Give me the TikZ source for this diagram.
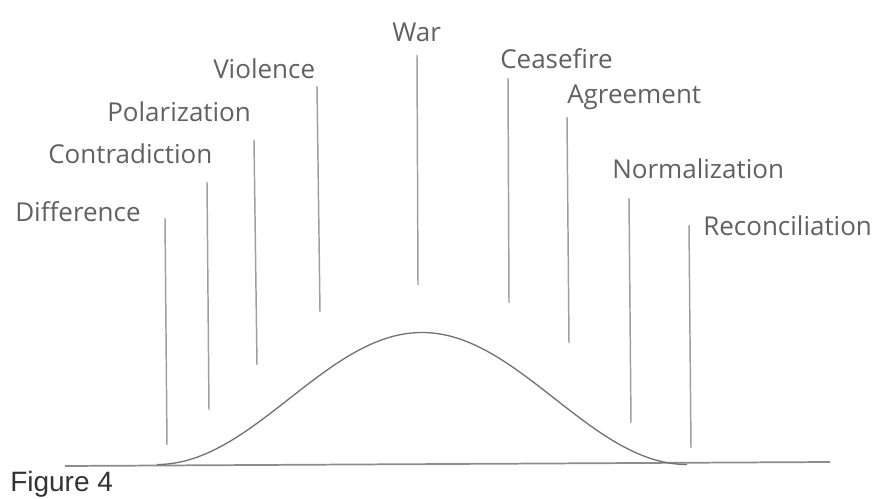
\documentclass[tikz,border=0pt]{standalone}
\usepackage{fontspec}
\setmainfont{Open Sans}
\newfontfamily\figfont{Liberation Sans}
\usetikzlibrary{positioning}

\begin{document}
\begin{tikzpicture}[x=0.75pt,y=-0.75pt,
		stage/.style={anchor=base west,inner sep=0pt,text=black!62,font=\fontsize{19.5}{23}\selectfont},
		stem/.style={draw=black!38,line width=1.1pt},
		axisline/.style={draw=black!45,line width=1.3pt},
		bell/.style={draw=black!55,line width=1pt}]
		\useasboundingbox (0,0) rectangle (886,499);
		
		% stage labels
		\node[stage] (dif) at (15,222) {Difference};
		\node[stage] (con) at (48,164) {Contradiction};
		\node[stage] (pol) at (107,122) {Polarization};
		\node[stage] (vio) at (213,79) {Violence};
		\node[stage] (war) at (392,42) {War};
		\node[stage] (cea) at (500,69) {Ceasefire};
		\node[stage] (agr) at (567,104) {Agreement};
		\node[stage] (nor) at (612,179) {Normalization};
		\node[stage] (rec) at (703,236) {Reconciliation};
		
		% stems under the labels
		\foreach \nm/\xa/\ya/\xb/\yb in {dif/165/218/167/445, con/207/182/209/410,
			pol/254/140/257/365, vio/317/86/320/312, war/417/55/418/285,
			cea/508/78/509/303, agr/567/117/569/343, nor/629/198/631/423,
			rec/689/225/691/448}{
			\coordinate (\nm-top) at (\xa,\ya);
			\coordinate (\nm-bot) at (\xb,\yb);
			\draw[stem] (\nm-top) -- (\nm-bot);
		}
		
		% time axis and conflict curve
		\coordinate (axl) at (65,466);
		\coordinate (axr) at (830,462);
		\draw[axisline] (axl) -- (axr);
		\draw[bell] plot[domain=157:687,samples=120,smooth]
			(\x,{464.5-66*(1+cos(0.67925*(\x-422)))});
		
		\node[anchor=base west,inner sep=0pt,text=black!80,font=\figfont\fontsize{21}{24}\selectfont] (fig) at (10,491) {Figure 4};
	\end{tikzpicture}
\end{document}
